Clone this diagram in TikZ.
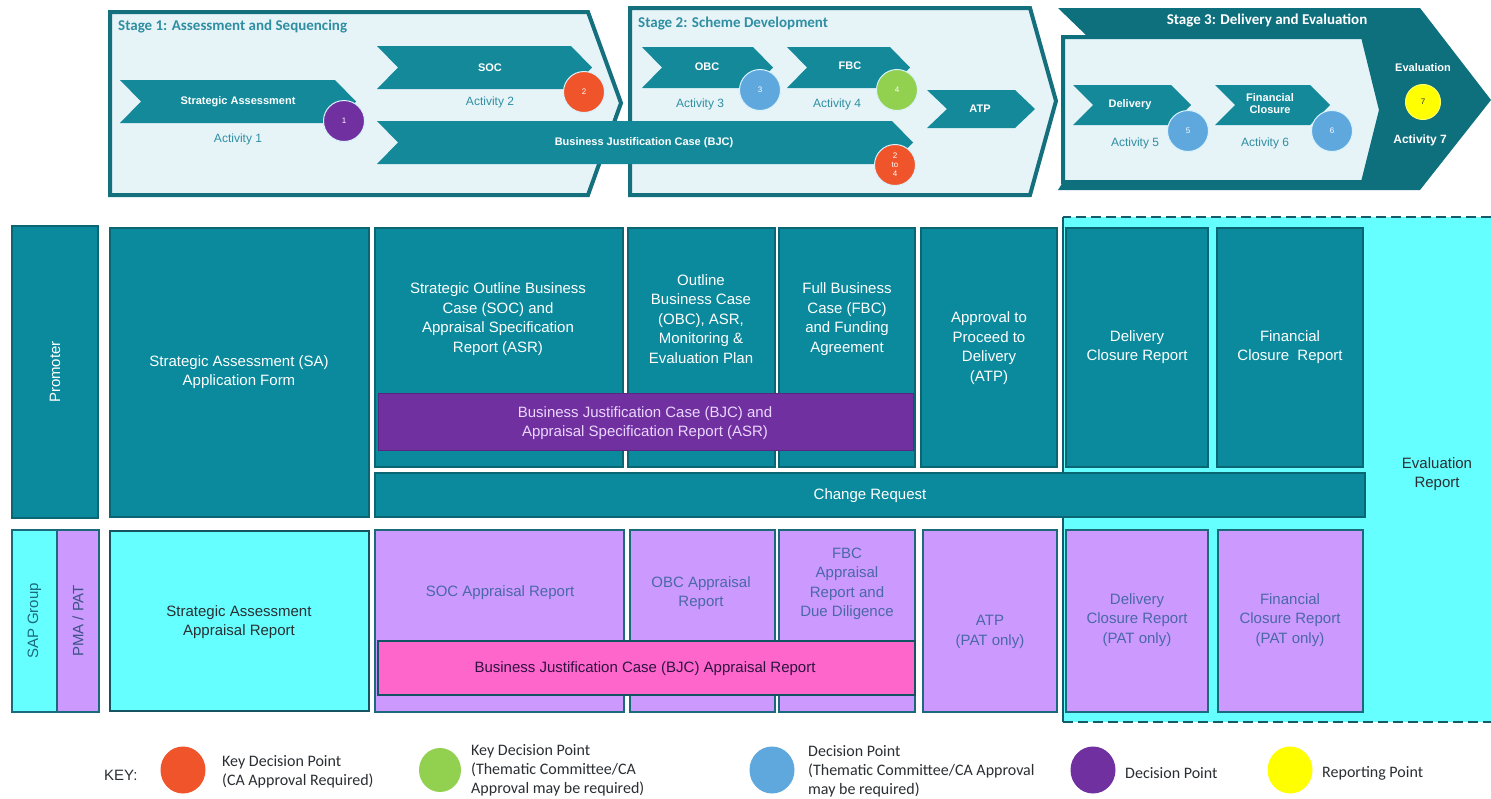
\documentclass[tikz,border=0pt]{standalone}
\usepackage{fontspec}
\setmainfont{Liberation Sans}
\newfontfamily\keyfont{Carlito}
\usetikzlibrary{shapes.geometric}

\definecolor{tealbox}{HTML}{0A8A9C}
\definecolor{tealedge}{HTML}{0B6673}
\definecolor{stageedge}{HTML}{15707D}
\definecolor{stagebg}{HTML}{E6F4F8}
\definecolor{stagedark}{HTML}{0E6F7D}
\definecolor{chevfill}{HTML}{13899A}
\definecolor{acttext}{HTML}{2F8EA2}
\definecolor{aqua}{HTML}{66FFFF}
\definecolor{lilac}{HTML}{CC99FF}
\definecolor{pinkbar}{HTML}{FF66CC}
\definecolor{purplebar}{HTML}{7030A0}
\definecolor{kdorange}{HTML}{F0542A}
\definecolor{kdgreen}{HTML}{92D050}
\definecolor{dpblue}{HTML}{5FA8DE}
\definecolor{dppurple}{HTML}{7030A0}
\definecolor{rpyellow}{HTML}{FFFF00}
\definecolor{lilactext}{HTML}{4A68A6}
\definecolor{celledge}{HTML}{1A6A7C}
\definecolor{darktext}{HTML}{2A2F33}

% rectangle given by its top-left and bottom-right corners
\newcommand{\cellbox}[6]{%
  \node[#2, anchor=north west, inner sep=0pt, outer sep=0pt,
        minimum width={#5-#3}, minimum height={#6-#4}] (#1) at (#3,#4) {};}
% chevron: name, left x, tip x, top y, bottom y, depth
\newcommand{\chevron}[6]{%
  \fill[chevfill] (#2,#4) -- (#3-#6,#4) -- (#3,{(#4+#5)/2}) -- (#3-#6,#5)
     -- (#2,#5) -- (#2+#6,{(#4+#5)/2}) -- cycle;
  \coordinate (#1) at ({(#2+#3)/2},{(#4+#5)/2});}

\tikzset{
  tealcell/.style={draw=tealedge, line width=1.4pt, fill=tealbox},
  lilaccell/.style={draw=celledge, line width=2pt, fill=lilac},
  aquacell/.style={draw=celledge!80!black, line width=2.4pt, fill=aqua},
  boxtext/.style={align=center, inner sep=0pt, font=\fontsize{15}{19.5}\selectfont},
  chevtext/.style={text=white, align=center, inner sep=0pt, font=\bfseries\fontsize{11}{13}\selectfont},
  acttxt/.style={text=acttext, inner sep=0pt, font=\fontsize{12}{14}\selectfont},
  dot/.style={circle, draw=white!85!cyan, line width=1pt, minimum size=41pt, inner sep=0pt,
              text=white, font=\fontsize{8}{8}\selectfont},
  keydot/.style={ellipse, minimum width=45pt, minimum height=47pt, inner sep=0pt},
  keytxt/.style={anchor=west, align=left, inner sep=0pt, text=darktext,
                 font=\keyfont\fontsize{16}{19}\selectfont},
  stagetitle/.style={anchor=west, inner sep=0pt, font=\keyfont\bfseries\fontsize{15}{17}\selectfont},
}

\begin{document}
\begin{tikzpicture}[x=1pt,y=-1pt]
\useasboundingbox (0,0) rectangle (1491,798);
\fill[white] (0,0) rectangle (1491,798);

%% ---------- stage banners ----------
\fill[stagedark] (1058,8) -- (1420,8) -- (1491,100) -- (1420,190) -- (1058,190)
   -- (1063,182) -- (1088,37) -- cycle;
\draw[stagedark, line width=4pt, fill=stagebg] (1063,37) -- (1363,37) -- (1381,110)
   -- (1363,182) -- (1063,182) -- cycle;
\draw[stageedge, line width=4pt, fill=stagebg] (630,8) -- (1030,8) -- (1056,101)
   -- (1030,195) -- (630,195) -- cycle;
\draw[stageedge, line width=4pt, fill=stagebg] (110,12) -- (588,12) -- (621,103)
   -- (588,195) -- (110,195) -- cycle;

\node[stagetitle, text=acttext] (st1) at (118,27) {Stage 1: Assessment and Sequencing};
\node[stagetitle, text=acttext] (st2) at (638,24) {Stage 2: Scheme Development};
\node[stagetitle, text=white, anchor=center] (st3) at (1267,20) {Stage 3: Delivery and Evaluation};

%% stage 1 activities
\chevron{chSA}{120}{356}{80}{123}{21}
\node[chevtext] (tSA) at (238,102) {Strategic Assessment};
\node[acttxt] (a1) at (238,139) {Activity 1};
\chevron{chSOC}{377}{592}{46}{89}{21}
\node[chevtext] (tSOC) at (490,68) {SOC};
\node[acttxt] (a2) at (490,102) {Activity 2};
\chevron{chBJC}{377}{913}{121}{164}{21}
\node[chevtext] (tBJC) at (644,143) {Business Justification Case (BJC)};
\node[dot, fill=dppurple] (d1) at (344,121) {1};
\node[dot, fill=kdorange] (d2) at (584,92) {2};
\node[dot, fill=kdorange, align=center, font=\fontsize{8}{9}\selectfont] (d24) at (895,165) {2\\to\\4};

%% stage 2 activities
\chevron{chOBC}{642}{773}{47}{88}{20}
\node[chevtext] (tOBC) at (707,67) {OBC};
\node[acttxt] (a3) at (700,104) {Activity 3};
\chevron{chFBC}{787}{910}{47}{88}{20}
\node[chevtext] (tFBC) at (850,66) {FBC};
\node[acttxt] (a4) at (837,104) {Activity 4};
\chevron{chATP}{927}{1035}{90}{128}{20}
\node[chevtext] (tATP) at (980,109) {ATP};
\node[dot, fill=dpblue] (d3) at (760,90) {3};
\node[dot, fill=kdgreen] (d4) at (897,90) {4};

%% stage 3 activities
\chevron{chDel}{1073}{1191}{85}{125}{20}
\node[chevtext] (tDel) at (1130,105) {Delivery};
\node[acttxt] (a5) at (1135,143) {Activity 5};
\chevron{chFin}{1215}{1330}{85}{125}{20}
\node[chevtext, font=\bfseries\fontsize{11}{12}\selectfont] (tFin) at (1270,104) {Financial\\Closure};
\node[acttxt] (a6) at (1265,143) {Activity 6};
\node[dot, fill=dpblue] (d5) at (1188,131) {5};
\node[dot, fill=dpblue] (d6) at (1332,131) {6};
\node[chevtext] (tEval) at (1423,68) {Evaluation};
\node[dot, fill=rpyellow, text=darktext, minimum size=35pt, draw=rpyellow!60!white] (d7) at (1423,102) {7};
\node[chevtext, font=\fontsize{12}{14}\selectfont\bfseries] (a7) at (1420,140) {Activity 7};

%% ---------- evaluation zone ----------
\fill[aqua] (1063,217) rectangle (1491,722);
\draw[celledge!85!black, line width=2.6pt, dash pattern=on 10pt off 5pt]
   (1491,217) -- (1063,217) (1063,722) -- (1491,722);
\draw[celledge!85!black, line width=2.4pt] (1063,217) -- (1063,722);
\node[boxtext, text=darktext] (evr) at (1437,474) {Evaluation\\Report};

%% ---------- promoter row ----------
\cellbox{prom}{tealcell}{12}{226}{98}{518}
\node[boxtext, text=white, rotate=90] at (prom) {Promoter};
\cellbox{sa}{tealcell}{110}{228}{369}{517}
\node[boxtext, text=white] (saT) at (239,372) {Strategic Assessment (SA)\\Application Form};
\cellbox{soc}{tealcell}{375}{228}{623}{467}
\node[boxtext, text=white] (socT) at (498,319) {Strategic Outline Business\\Case (SOC) and\\Appraisal Specification\\Report (ASR)};
\cellbox{obc}{tealcell}{628}{228}{775}{467}
\node[boxtext, text=white] (obcT) at (701,319) {Outline\\Business Case\\(OBC), ASR,\\Monitoring \&\\Evaluation Plan};
\cellbox{fbc}{tealcell}{779}{228}{915}{467}
\node[boxtext, text=white] (fbcT) at (847,319) {Full Business\\Case (FBC)\\and Funding\\Agreement};
\cellbox{atp}{tealcell}{921}{228}{1057}{467}
\node[boxtext, text=white] (atpT) at (989,348) {Approval to\\Proceed to\\Delivery\\(ATP)};
\cellbox{dcr}{tealcell}{1066}{228}{1208}{467}
\node[boxtext, text=white] (dcrT) at (1137,347) {Delivery\\Closure Report};
\cellbox{fcr}{tealcell}{1217}{228}{1363}{467}
\node[boxtext, text=white] (fcrT) at (1290,347) {Financial\\Closure~~Report};
\cellbox{bjc}{fill=purplebar, draw=purplebar!80!black, line width=0.8pt}{378}{393}{913}{450}
\node[boxtext, text=lilac!40!white] (bjcT) at (645,423) {Business Justification Case (BJC) and\\Appraisal Specification Report (ASR)};
\cellbox{chg}{tealcell}{375}{473}{1365}{517}
\node[boxtext, text=white] (chgT) at (870,496) {Change Request};

%% ---------- appraisal row ----------
\cellbox{sap}{draw=celledge, line width=1.6pt, fill=aqua}{12}{530}{57}{712}
\node[boxtext, text=celledge, rotate=90] at (sap) {SAP Group};
\cellbox{pma}{draw=celledge, line width=1.6pt, fill=lilac}{57}{530}{99}{712}
\node[boxtext, text=lilactext!80!black, rotate=90] at (pma) {PMA / PAT};
\cellbox{saa}{aquacell}{110}{531}{369}{711}
\node[boxtext, text=darktext] (saaT) at (239,622) {Strategic Assessment\\Appraisal Report};
\cellbox{soca}{lilaccell}{375}{530}{624}{712}
\node[boxtext, text=lilactext] (socaT) at (500,593) {SOC Appraisal Report};
\cellbox{obca}{lilaccell}{630}{530}{775}{712}
\node[boxtext, text=lilactext] (obcaT) at (701,593) {OBC Appraisal\\Report};
\cellbox{fbca}{lilaccell}{779}{530}{915}{712}
\node[boxtext, text=lilactext] (fbcaT) at (847,584) {FBC\\Appraisal\\Report and\\Due Diligence};
\cellbox{atpa}{lilaccell}{923}{530}{1057}{712}
\node[boxtext, text=lilactext] (atpaT) at (990,632) {ATP\\(PAT only)};
\cellbox{dcra}{lilaccell}{1066}{530}{1208}{712}
\node[boxtext, text=lilactext] (dcraT) at (1137,620) {Delivery\\Closure Report\\(PAT only)};
\cellbox{fcra}{lilaccell}{1218}{530}{1363}{712}
\node[boxtext, text=lilactext] (fcraT) at (1290,620) {Financial\\Closure Report\\(PAT only)};
\cellbox{bjca}{draw=celledge!80!black, line width=2pt, fill=pinkbar}{378}{641}{915}{695}
\node[boxtext, text=purplebar!40!black] (bjcaT) at (645,669) {Business Justification Case (BJC) Appraisal Report};

%% ---------- key ----------
\node[keytxt, font=\fontsize{15}{18}\selectfont] (key) at (104,775) {KEY:};
\node[keydot, fill=kdorange] (k1) at (183,770) {};
\node[keytxt] (k1t) at (222,772) {Key Decision Point\\(CA Approval Required)};
\node[keydot, fill=kdgreen, minimum width=42pt, minimum height=44pt] (k2) at (440,770) {};
\node[keytxt] (k2t) at (471,770) {Key Decision Point\\(Thematic Committee/CA\\Approval may be required)};
\node[keydot, fill=dpblue] (k3) at (772,770) {};
\node[keytxt] (k3t) at (808,771) {Decision Point\\(Thematic Committee/CA Approval\\may be required)};
\node[keydot, fill=dppurple] (k4) at (1093,770) {};
\node[keytxt] (k4t) at (1125,773) {Decision Point};
\node[keydot, fill=rpyellow] (k5) at (1290,770) {};
\node[keytxt] (k5t) at (1322,773) {Reporting Point};
\end{tikzpicture}
\end{document}
